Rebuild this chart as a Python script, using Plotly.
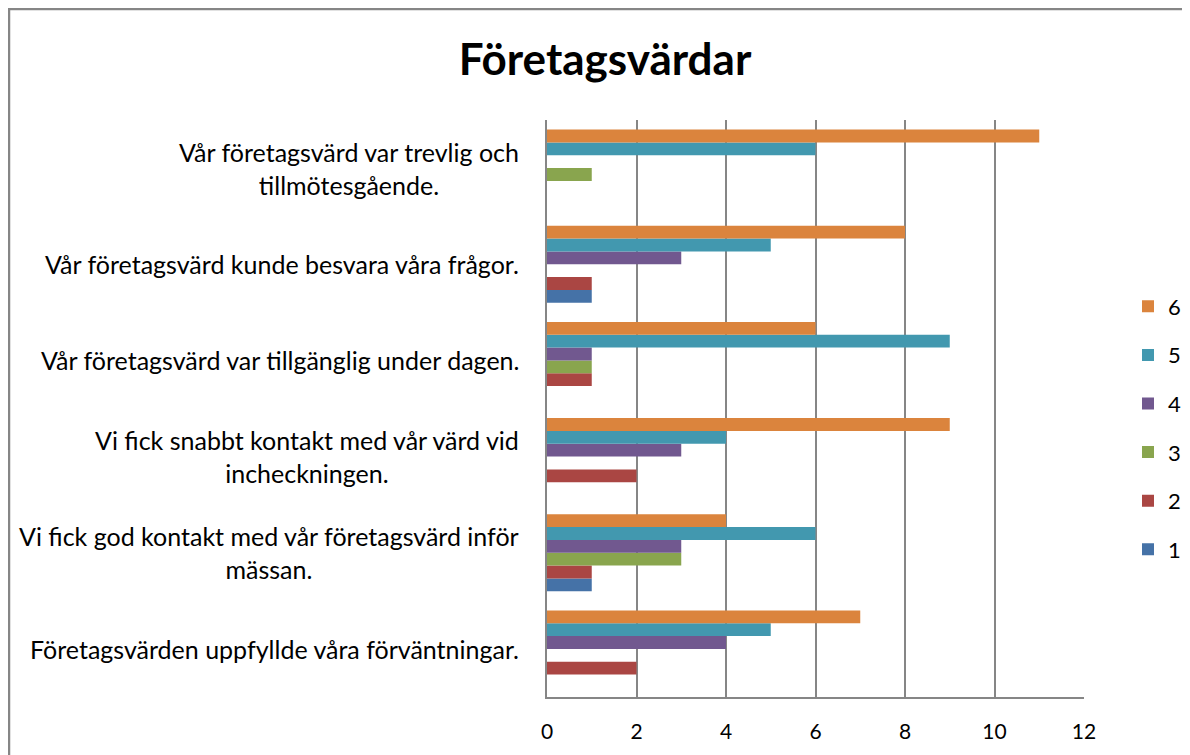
import plotly.graph_objects as go

categories = [
    "Företagsvärden uppfyllde våra förväntningar.",
    "Vi fick god kontakt med vår företagsvärd inför<br>mässan.",
    "Vi fick snabbt kontakt med vår värd vid<br>incheckningen.",
    "Vår företagsvärd var tillgänglig under dagen.",
    "Vår företagsvärd kunde besvara våra frågor.",
    "Vår företagsvärd var trevlig och<br>tillmötesgående.",
]
series_names = ["1", "2", "3", "4", "5", "6"]
s1 = [0, 1, 0, 0, 1, 0]
s2 = [2, 1, 2, 1, 1, 0]
s3 = [0, 3, 0, 1, 0, 1]
s4 = [4, 3, 3, 1, 3, 0]
s5 = [5, 6, 4, 9, 5, 6]
s6 = [7, 4, 9, 6, 8, 11]
values = [s1, s2, s3, s4, s5, s6]
colors = ["#4572A7", "#AA4643", "#89A54E", "#71588F", "#4298AF", "#DB843D"]
x_ticks = [0, 2, 4, 6, 8, 10, 12]

FONT = "Lato"
fig = go.Figure()
for i, (name, vals, col) in enumerate(zip(series_names, values, colors)):
    fig.add_trace(go.Bar(
        y=categories, x=vals, name=name, orientation="h",
        marker=dict(color=col, line=dict(width=0)),
        legendgroup=name, legendrank=100 - i,
    ))

# page body adds an 8px offset; coordinates below are in figure pixels
OFF = 8
W, H = 1190, 755
L, T = 547 - OFF, 120 - OFF
R = W - (1084 - OFF)
B = H - (697 - OFF)
pw, ph = W - L - R, H - T - B

annotations = []
for c in categories:
    annotations.append(dict(
        text=c, x=0, xref="paper", xanchor="right", xshift=-26,
        y=c, yref="y", yanchor="middle", align="center", showarrow=False,
        font=dict(family=FONT, size=25, color="black"),
    ))

fig.update_layout(
    width=W, height=H,
    margin=dict(l=L, r=R, t=T, b=B),
    paper_bgcolor="white", plot_bgcolor="white",
    barmode="group", bargap=0.2, bargroupgap=0,
    font=dict(family=FONT, size=21, color="black"),
    title=dict(text="<b>Företagsvärdar</b>", x=(605 - OFF) / W, xanchor="center",
               xref="container", yref="container",
               y=1 - (60 - OFF) / H, yanchor="middle",
               font=dict(family=FONT, size=44, color="black")),
    legend=dict(traceorder="grouped", tracegroupgap=17,
                xref="container", yref="container",
                x=(1128 - OFF) / W, xanchor="left",
                y=1 - (428 - OFF) / H, yanchor="middle",
                font=dict(family=FONT, size=22, color="black"),
                itemwidth=30, bgcolor="rgba(0,0,0,0)"),
    xaxis=dict(range=[0, 12], tickvals=x_ticks, showgrid=True,
               gridcolor="#868686", gridwidth=2, zeroline=False,
               showline=True, linecolor="#868686", linewidth=2,
               mirror=False, ticks="", ticklabelstandoff=15,
               tickfont=dict(family=FONT, size=21, color="black")),
    yaxis=dict(showgrid=False, showline=True, linecolor="#868686",
               linewidth=2, ticks="", showticklabels=False),
    annotations=annotations,
    shapes=[dict(type="rect", xref="paper", yref="paper",
                 x0=(1 - L) / pw, x1=(W + 20 - L) / pw,
                 y0=(H - B - (H + 20)) / ph, y1=(H - B - 1) / ph,
                 line=dict(color="#868686", width=2.5), layer="below")],
)

fig.write_html("out.html")
